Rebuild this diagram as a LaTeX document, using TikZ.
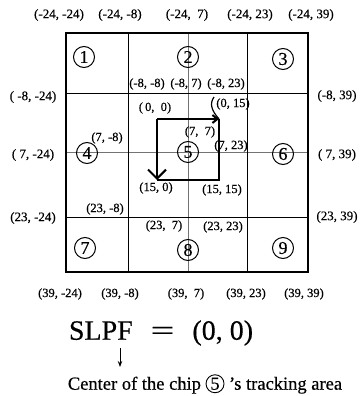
\documentclass[tikz,border=0pt]{standalone}
\usepackage{fontspec}
\setmainfont[FakeBold=0.4]{Liberation Serif}
\usetikzlibrary{arrows.meta}
\newcommand{\circled}[1]{\tikz[baseline=(cc.base)]\node[draw,circle,inner sep=0pt,minimum size=18pt,line width=0.9pt](cc){#1};}
\begin{document}
\begin{tikzpicture}[x=1pt,y=-1pt,
 lbl/.style={font=\fontsize{13}{14}\selectfont, inner sep=0pt},
 ilbl/.style={font=\fontsize{12.5}{13}\selectfont, inner sep=0pt},
 cnum/.style={draw,circle,minimum size=21pt,inner sep=0pt,font=\fontsize{18}{18}\selectfont,line width=1pt},
 gridline/.style={line width=0.9pt},
 thinline/.style={line width=0.6pt, black!55},
 border/.style={line width=2.4pt},
 scan/.style={line width=2pt},
 hook/.style={line width=1.2pt}]
\useasboundingbox (0,0) rectangle (362,396);
% grid
\draw[thinline] (188,33) -- (188,272);
\draw[thinline] (66,152) -- (308,152);
\draw[gridline] (128,33) -- (128,272);
\draw[gridline] (247,33) -- (247,272);
\draw[gridline] (66,93) -- (308,93);
\draw[gridline] (66,217) -- (308,217);
\draw[border] (66,33) rectangle (308,272);
% circled numbers
\node[cnum] (c1) at (84,57) {1};
\node[cnum] (c2) at (188,57) {2};
\node[cnum] (c3) at (283,59) {3};
\node[cnum] (c4) at (87,153) {4};
\node[cnum] (c5) at (188,152) {5};
\node[cnum] (c6) at (283,154) {6};
\node[cnum] (c7) at (85,248) {7};
\node[cnum] (c8) at (188,250) {8};
\node[cnum] (c9) at (283,248) {9};
% top labels
\node[lbl] (t1) at (59,15) {(-24, -24)};
\node[lbl] (t2) at (120,15) {(-24, -8)};
\node[lbl] (t3) at (187,15) {(-24,\ \ 7)};
\node[lbl] (t4) at (250,15) {(-24, 23)};
\node[lbl] (t5) at (311,15) {(-24, 39)};
% left labels
\node[lbl] (l1) at (33,97) {( -8, -24)};
\node[lbl] (l2) at (33,155) {( 7, -24)};
\node[lbl] (l3) at (33,218) {(23, -24)};
% right labels
\node[lbl] (r1) at (337,96) {(-8, 39)};
\node[lbl] (r2) at (337,155) {( 7, 39)};
\node[lbl] (r3) at (337,217) {(23, 39)};
% bottom labels
\node[ilbl] (b1) at (60,294) {(39, -24)};
\node[ilbl] (b2) at (120,294) {(39, -8)};
\node[ilbl] (b3) at (186,294) {(39,\ \ 7)};
\node[ilbl] (b4) at (246,294) {(39, 23)};
\node[ilbl] (b5) at (304,294) {(39, 39)};
% inner labels
\node[ilbl] (i1) at (147,84) {(-8, -8)};
\node[ilbl] (i2) at (186,84) {(-8,\ 7)};
\node[ilbl] (i3) at (226,84) {(-8, 23)};
\node[ilbl] (i4) at (155,108) {(\,0,\ \ 0)};
\node[ilbl] (i5) at (233,104) {(0, 15)};
\node[ilbl] (i6) at (200,132) {(7,\ \ 7)};
\node[ilbl] (i7) at (231,146) {(7, 23)};
\node[ilbl] (i8) at (107,138) {(7, -8)};
\node[ilbl] (i9) at (156,188) {(15,\ 0)};
\node[ilbl] (i10) at (222,190) {(15, 15)};
\node[ilbl] (i11) at (105,209) {(23, -8)};
\node[ilbl] (i12) at (164,226) {(23,\ \ 7)};
\node[ilbl] (i13) at (223,227) {(23, 23)};
% scan path
\coordinate (TL) at (157,119);
\coordinate (TR) at (219,119);
\coordinate (BR) at (219,180);
\coordinate (BL) at (157,180);
\draw[scan] (TR) -- (BR) -- (BL);
\draw[scan, -{Straight Barb[length=5pt,width=8pt]}] (TL) -- (TR);
\draw[scan, -{Straight Barb[length=9pt,width=18pt]}] (TL) -- (BL);
\coordinate (H) at (214,97);
\draw[hook] (H) .. controls (209,104) and (212,111) .. (TR);
% bottom text
\node[font=\fontsize{28}{30}\selectfont, inner sep=0pt] (slpf) at (161,333) {SLPF\hspace{18pt}\scalebox{1.5}[1]{=}\hspace{18pt}(0,\ 0)};
\coordinate (A1) at (120,348);
\coordinate (A2) at (120,367);
\draw[line width=1pt, -{Stealth[length=6pt,width=4.5pt]}] (A1) -- (A2);
\node[font=\fontsize{18.5}{20}\selectfont, inner sep=0pt] (cap) at (205,384) {Center of the chip \circled{5} 's tracking area};
\end{tikzpicture}
\end{document}
